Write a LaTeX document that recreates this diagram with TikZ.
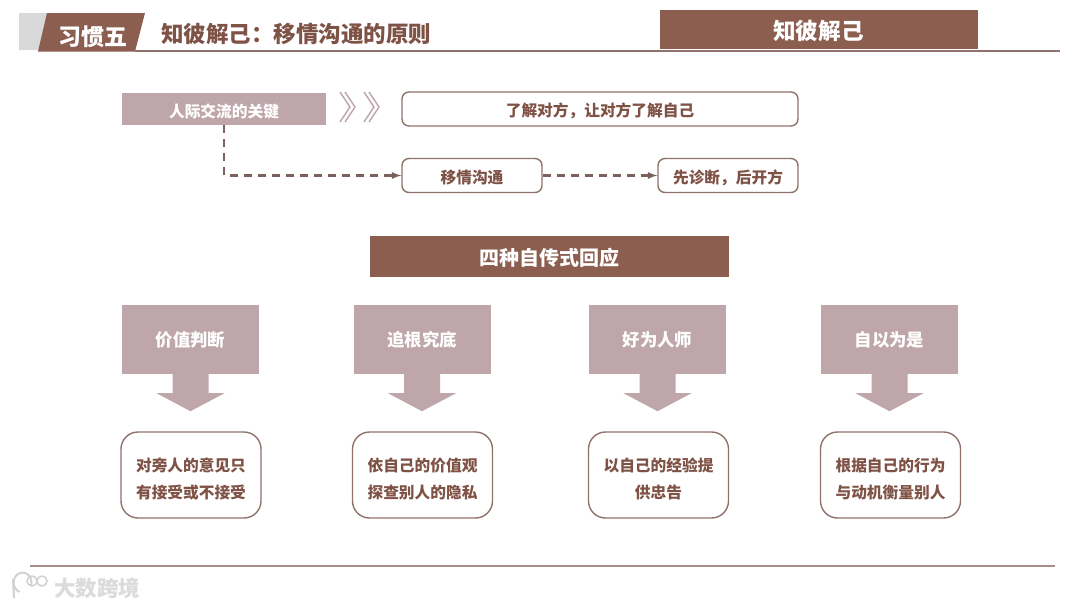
\documentclass[tikz,border=0pt]{standalone}
\usepackage{fontspec}
\setmainfont{Noto Sans CJK SC}
\definecolor{darkrose}{HTML}{8B5E50}
\definecolor{lightrose}{HTML}{BFA6AB}
\definecolor{linerose}{HTML}{8F726C}
\definecolor{textrose}{HTML}{7F5246}
\newcommand{\low}[2][6.5pt]{\raisebox{-#1}[0pt][0pt]{\begin{tabular}{@{}c@{}}#2\end{tabular}}}
\tikzstyle{banner}=[fill=darkrose, text=white, font=\bfseries, inner sep=0pt]
\tikzstyle{tag}=[fill=lightrose, text=white, font=\bfseries, inner sep=0pt]
\tikzstyle{box}=[draw=linerose, line width=1.4pt, fill=white, text=textrose, font=\bfseries\fontsize{15.7}{27}\selectfont, align=center, inner sep=0pt]
\tikzstyle{column}=[box, rounded corners=17pt, minimum width=140pt, minimum height=86pt]
\tikzstyle{flow}=[draw=linerose!85!black, line width=2.2pt, dash pattern=on 8pt off 6pt, -latex]

\begin{document}
\begin{tikzpicture}[x=1pt, y=-1pt]
	\useasboundingbox (0,0) rectangle (1080,608);
	\fill[white] (0,0) rectangle (1080,608);
	\fill[black!15!white] (19,13) -- (50,13) -- (40,50) -- (19,50) -- cycle;
	\fill[darkrose] (38,51.5) -- (47,13) -- (145,13) -- (135,51.5) -- cycle;
	\node[text=white, font=\bfseries\fontsize{23}{23}\selectfont] (habit) at (92.5,37) {习惯五};
	\node[anchor=west, text=textrose, inner sep=0pt, font=\bfseries\fontsize{22.5}{22}\selectfont] (title) at (161,34) {知彼解己：移情沟通的原则};
	\draw[linerose, line width=1.3pt] (135,51) -- (1060,51);
	\node[banner, minimum width=318pt, minimum height=39pt, font=\bfseries\fontsize{22.6}{22}\selectfont] (header) at (818.5,29) {\low[9pt]{知彼解己}};

	\node[tag, minimum width=204pt, minimum height=32pt, font=\bfseries\fontsize{15.7}{15}\selectfont] (key) at (224,109) {\low[8pt]{人际交流的关键}};
	\draw[lightrose, line width=1.4pt] (340,92) -- (350,107) -- (340,122) (345,92) -- (355,107) -- (345,122);
	\draw[lightrose, line width=1.4pt] (364,92) -- (374,107) -- (364,122) (369,92) -- (379,107) -- (369,122);
	\node[box, rounded corners=7pt, minimum width=396pt, minimum height=34pt] (know) at (600,109) {\low[6pt]{了解对方，让对方了解自己}};
	\node[box, rounded corners=7pt, minimum width=140pt, minimum height=34pt] (empathy) at (472,175.5) {\low{移情沟通}};
	\node[box, rounded corners=7pt, minimum width=140pt, minimum height=34pt] (diagnose) at (728,175.5) {\low{先诊断，后开方}};
	\draw[flow] (key.south) |- (empathy.west);
	\draw[flow] (empathy.east) -- (diagnose.west);

	\node[banner, minimum width=359pt, minimum height=41pt, font=\bfseries\fontsize{20}{20}\selectfont] (four) at (549.5,256.5) {\low[8.5pt]{四种自传式回应}};

	\tikzstyle{head}=[tag, minimum width=137pt, minimum height=69pt, font=\bfseries\fontsize{17.4}{17}\selectfont]
	\node[head] (value) at (190.5,339.5) {\low{价值判断}};
	\node[head] (probe) at (422,339.5) {\low{追根究底}};
	\node[head] (advise) at (657.5,339.5) {\low{好为人师}};
	\node[head] (self) at (889.5,339.5) {\low{自以为是}};
	\fill[lightrose] ([shift={(-18,0)}] value.south) -- ++(36,0) -- ++(0,19) -- ++(16,0) -- ++(-34,18) -- ++(-34,-18) -- ++(16,0) -- cycle;
	\fill[lightrose] ([shift={(-18,0)}] probe.south) -- ++(36,0) -- ++(0,19) -- ++(16,0) -- ++(-34,18) -- ++(-34,-18) -- ++(16,0) -- cycle;
	\fill[lightrose] ([shift={(-18,0)}] advise.south) -- ++(36,0) -- ++(0,19) -- ++(16,0) -- ++(-34,18) -- ++(-34,-18) -- ++(16,0) -- cycle;
	\fill[lightrose] ([shift={(-18,0)}] self.south) -- ++(36,0) -- ++(0,19) -- ++(16,0) -- ++(-34,18) -- ++(-34,-18) -- ++(16,0) -- cycle;
	\node[column] (valuetext) at (191,475) {\low[8.5pt]{对旁人的意见只\\有接受或不接受}};
	\node[column] (probetext) at (422.5,475) {\low[8.5pt]{依自己的价值观\\探查别人的隐私}};
	\node[column] (advisetext) at (658.5,475) {\low[8.5pt]{以自己的经验提\\供忠告}};
	\node[column] (selftext) at (890.5,475) {\low[8.5pt]{根据自己的行为\\与动机衡量别人}};

	\draw[linerose!80!white, line width=1.2pt] (30,566) -- (1055,566);
	\draw[black!18!white, line width=2pt] (13,579) -- (14,598);
	\draw[black!18!white, line width=2pt] (31,586) arc (20:-250:9 and 10);
	\draw[black!18!white, line width=1.5pt] (32,581) circle (5);
	\draw[black!18!white, line width=1.5pt] (42,581) circle (5);
	\node[text=black!14!white, font=\bfseries\fontsize{21.5}{21.5}\selectfont] (brand) at (97,588) {大数跨境};
\end{tikzpicture}
\end{document}
